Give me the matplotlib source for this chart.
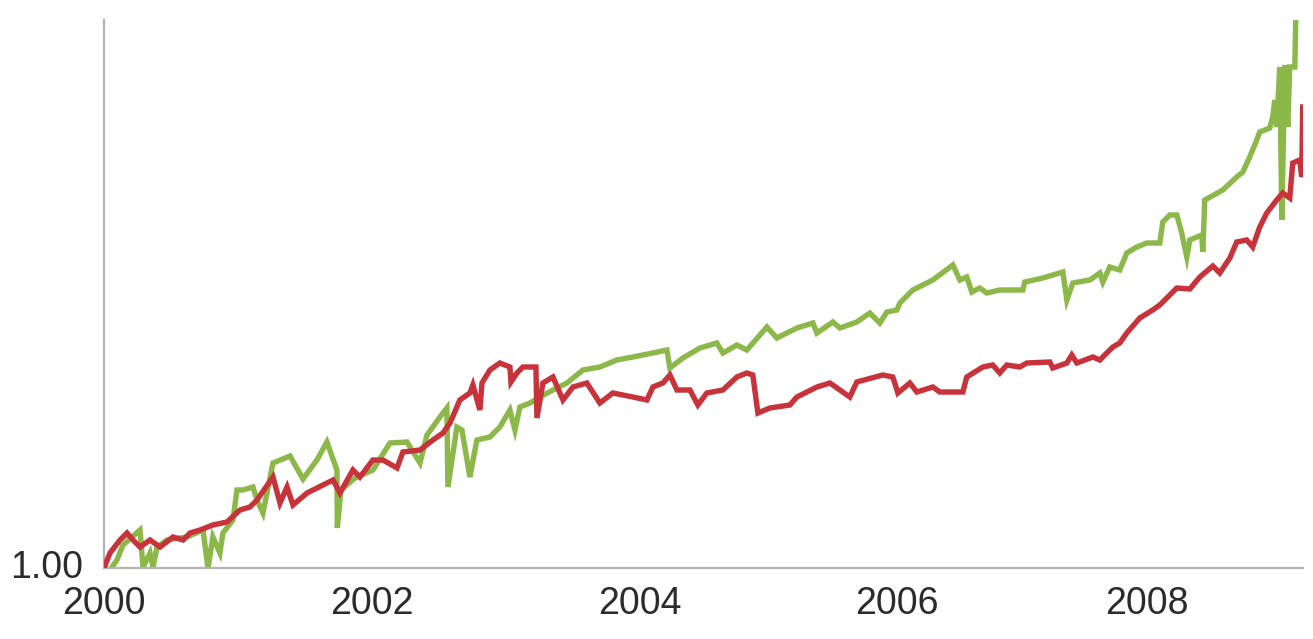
import matplotlib
matplotlib.use("Agg")
import matplotlib.pyplot as plt
import numpy as np

# ---- data ----
green_x = [0.000, 0.046, 0.100, 0.146, 0.277, 0.300, 0.354, 0.377, 0.408, 0.485,
           0.638, 0.762, 0.800, 0.838, 0.892, 0.915, 0.992, 1.023, 1.069, 1.146,
           1.177, 1.223, 1.300, 1.431, 1.531, 1.638, 1.715, 1.792, 1.795, 1.823,
           1.931, 2.069, 2.200, 2.331, 2.431, 2.485, 2.585, 2.638, 2.646, 2.715,
           2.754, 2.815, 2.869, 2.969, 3.046, 3.123, 3.162, 3.200, 3.277, 3.354,
           3.454, 3.562, 3.685, 3.815, 3.946, 4.069, 4.223, 4.331, 4.354, 4.454,
           4.585, 4.715, 4.762, 4.869, 4.946, 5.100, 5.177, 5.331, 5.454, 5.485,
           5.608, 5.662, 5.792, 5.892, 5.969, 6.023, 6.100, 6.123, 6.223, 6.377,
           6.531, 6.585, 6.638, 6.677, 6.738, 6.792, 6.892, 7.069, 7.085, 7.223,
           7.377, 7.408, 7.454, 7.585, 7.662, 7.685, 7.738, 7.815, 7.869, 7.946,
           8.023, 8.123, 8.146, 8.200, 8.254, 8.292, 8.331, 8.354, 8.408, 8.446,
           8.454, 8.469, 8.608, 8.715, 8.762, 8.815, 8.869, 8.892, 8.969, 8.992,
           9.008, 9.023, 9.046, 9.062, 9.085, 9.108, 9.123, 9.162, 9.169]
green_y = [1.000, 0.996, 1.016, 1.046, 1.076, 1.002, 1.030, 1.002, 1.042, 1.056,
           1.062, 1.076, 1.000, 1.062, 1.030, 1.070, 1.096, 1.156, 1.156, 1.162,
           1.136, 1.110, 1.210, 1.224, 1.178, 1.216, 1.252, 1.196, 1.080, 1.156,
           1.180, 1.196, 1.250, 1.252, 1.210, 1.266, 1.302, 1.320, 1.162, 1.282,
           1.276, 1.182, 1.256, 1.262, 1.282, 1.316, 1.276, 1.322, 1.330, 1.342,
           1.356, 1.370, 1.396, 1.402, 1.416, 1.422, 1.430, 1.436, 1.400, 1.420,
           1.440, 1.450, 1.430, 1.446, 1.436, 1.482, 1.460, 1.480, 1.490, 1.470,
           1.492, 1.480, 1.492, 1.510, 1.490, 1.512, 1.516, 1.530, 1.556, 1.576,
           1.606, 1.576, 1.582, 1.552, 1.560, 1.550, 1.556, 1.556, 1.572, 1.580,
           1.592, 1.536, 1.570, 1.576, 1.590, 1.572, 1.602, 1.596, 1.630, 1.642,
           1.650, 1.650, 1.692, 1.706, 1.706, 1.670, 1.622, 1.656, 1.662, 1.666,
           1.632, 1.736, 1.756, 1.782, 1.792, 1.822, 1.856, 1.872, 1.880, 1.902,
           1.936, 1.882, 2.002, 1.696, 2.006, 1.882, 2.002, 2.002, 2.096]

red_x = [0.000, 0.046, 0.123, 0.177, 0.223, 0.277, 0.354, 0.431, 0.531, 0.608,
         0.662, 0.738, 0.838, 0.946, 1.046, 1.123, 1.177, 1.300, 1.354, 1.408,
         1.454, 1.562, 1.685, 1.762, 1.815, 1.915, 1.969, 2.069, 2.146, 2.254,
         2.300, 2.431, 2.531, 2.608, 2.662, 2.738, 2.815, 2.838, 2.892, 2.908,
         2.969, 3.046, 3.123, 3.131, 3.177, 3.223, 3.323, 3.331, 3.377, 3.454,
         3.531, 3.608, 3.715, 3.815, 3.915, 4.069, 4.177, 4.223, 4.300, 4.354,
         4.408, 4.508, 4.569, 4.638, 4.762, 4.869, 4.946, 4.992, 5.031, 5.123,
         5.277, 5.331, 5.485, 5.585, 5.662, 5.738, 5.792, 5.992, 6.069, 6.108,
         6.200, 6.254, 6.377, 6.431, 6.608, 6.638, 6.762, 6.838, 6.892, 6.946,
         7.046, 7.100, 7.277, 7.300, 7.408, 7.446, 7.485, 7.608, 7.662, 7.715,
         7.762, 7.815, 7.869, 7.969, 8.069, 8.123, 8.177, 8.254, 8.354, 8.431,
         8.531, 8.585, 8.662, 8.715, 8.792, 8.838, 8.892, 8.946, 9.023, 9.069,
         9.123, 9.146, 9.200, 9.215, 9.223]
red_y = [1.000, 1.030, 1.056, 1.070, 1.056, 1.042, 1.056, 1.042, 1.062, 1.056,
         1.070, 1.076, 1.086, 1.092, 1.116, 1.122, 1.136, 1.182, 1.130, 1.162,
         1.126, 1.150, 1.166, 1.176, 1.150, 1.196, 1.182, 1.216, 1.216, 1.200,
         1.232, 1.236, 1.256, 1.270, 1.290, 1.336, 1.350, 1.366, 1.316, 1.370,
         1.396, 1.410, 1.402, 1.372, 1.390, 1.402, 1.402, 1.300, 1.370, 1.382,
         1.336, 1.362, 1.370, 1.330, 1.350, 1.342, 1.336, 1.362, 1.370, 1.386,
         1.356, 1.356, 1.326, 1.350, 1.356, 1.382, 1.390, 1.386, 1.310, 1.320,
         1.326, 1.342, 1.362, 1.370, 1.356, 1.342, 1.372, 1.386, 1.382, 1.350,
         1.370, 1.352, 1.362, 1.352, 1.352, 1.382, 1.402, 1.406, 1.390, 1.406,
         1.402, 1.410, 1.412, 1.400, 1.410, 1.426, 1.410, 1.422, 1.416, 1.430,
         1.442, 1.450, 1.470, 1.500, 1.516, 1.526, 1.540, 1.560, 1.558, 1.582,
         1.604, 1.590, 1.620, 1.652, 1.656, 1.642, 1.682, 1.710, 1.736, 1.750,
         1.740, 1.810, 1.816, 1.782, 1.922]

base_year = 2000
tick_pos = [2000.0, 2002.06, 2004.12, 2006.10, 2008.02]
tick_labels = ["2000", "2002", "2004", "2006", "2008"]
y_ticks = [1.00]
y_tick_labels = ["1.00"]

green_color = "#8cb84a"
red_color = "#c8333b"

# ---- figure ----
fig = plt.figure(figsize=(13.13, 6.39), dpi=100)
ax = fig.add_axes([104/1313, (639-568)/639, (1303-104)/1313, (568-20)/639])

gx = base_year + np.array(green_x)
rx = base_year + np.array(red_x)
ax.plot(gx, green_y, color=green_color, lw=3.9, solid_joinstyle="miter", zorder=2)
ax.plot(rx, red_y, color=red_color, lw=3.9, solid_joinstyle="miter", zorder=3)

ax.set_xlim(2000.0, 2009.225)
ax.set_ylim(1.0, 2.096)

for s in ["top", "right"]:
    ax.spines[s].set_visible(False)
for s in ["left", "bottom"]:
    ax.spines[s].set_color("#b3b3b3")
    ax.spines[s].set_linewidth(1.6)

ax.set_xticks(tick_pos)
ax.set_xticklabels(tick_labels)
ax.set_yticks(y_ticks)
ax.set_yticklabels(y_tick_labels)
ax.tick_params(axis="both", length=0, labelsize=27, labelcolor="#2b2b2b")
ax.tick_params(axis="x", pad=13)
ax.tick_params(axis="y", pad=15)
for lab in ax.get_xticklabels() + ax.get_yticklabels():
    lab.set_family(["Liberation Sans", "DejaVu Sans"])
for lab in ax.get_yticklabels():
    lab.set_verticalalignment("center")

fig.savefig("out.png", dpi=100, facecolor="white")
